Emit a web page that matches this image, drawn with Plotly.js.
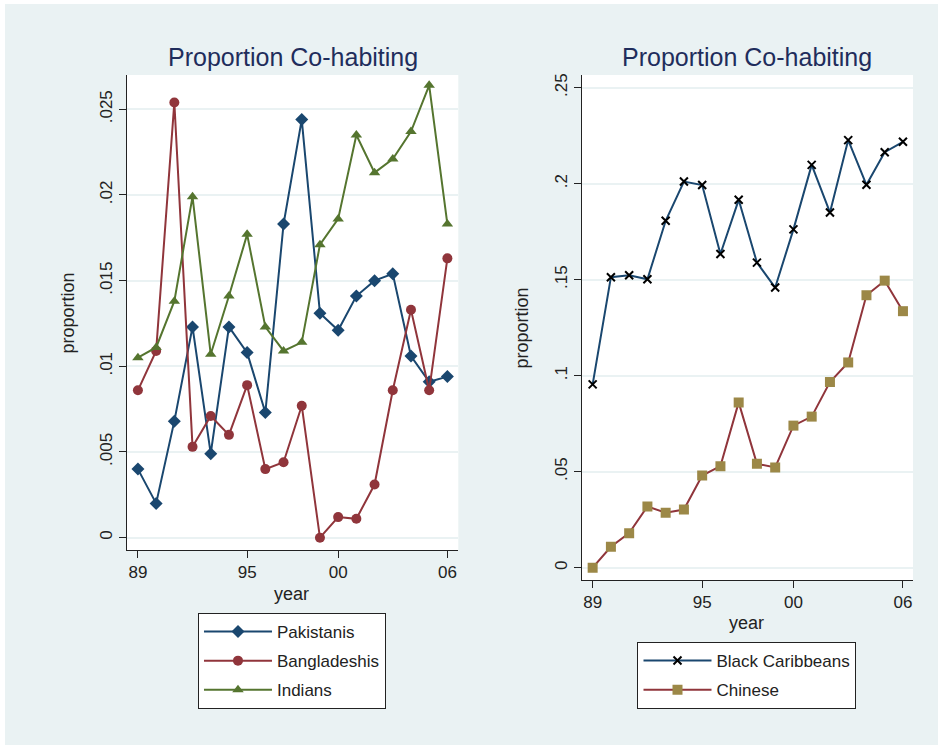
<!DOCTYPE html>
<html>
<head>
<meta charset="utf-8">
<script src="https://cdn.plot.ly/plotly-3.0.1.min.js"></script>
<style>
html,body{margin:0;padding:0;background:#ffffff;}
#chart{position:absolute;left:5px;top:4px;width:933px;height:741px;}
</style>
</head>
<body>
<div id="chart"></div>
<script>
// ---- data ----
var years = [1989,1990,1991,1992,1993,1994,1995,1996,1997,1998,1999,2000,2001,2002,2003,2004,2005,2006];

var pakistanis   = [0.0040,0.0020,0.0068,0.0123,0.0049,0.0123,0.0108,0.0073,0.0183,0.0244,0.0131,0.0121,0.0141,0.0150,0.0154,0.0106,0.0091,0.0094];
var bangladeshis = [0.0086,0.0109,0.0254,0.0053,0.0071,0.0060,0.0089,0.0040,0.0044,0.0077,0.0000,0.0012,0.0011,0.0031,0.0086,0.0133,0.0086,0.0163];
var indians      = [0.0105,0.0111,0.0138,0.0199,0.0107,0.0141,0.0177,0.0123,0.0109,0.0114,0.0171,0.0186,0.0235,0.0213,0.0221,0.0237,0.0264,0.0183];

var blackCaribbeans = [0.0955,0.1513,0.1523,0.1502,0.1807,0.2011,0.1993,0.1634,0.1916,0.1589,0.1459,0.1762,0.2098,0.1850,0.2227,0.1994,0.2164,0.2218];
var chinese         = [0.0000,0.0109,0.0180,0.0319,0.0286,0.0303,0.0480,0.0529,0.0861,0.0541,0.0522,0.0740,0.0787,0.0967,0.1069,0.1419,0.1495,0.1336];

var xTickVals = [1989,1995,2000,2006];
var xTickText = ['89','95','00','06'];
var yLeftVals = [0,0.005,0.01,0.015,0.02,0.025];
var yLeftText = ['0','.005','.01','.015','.02','.025'];
var yRightVals = [0,0.05,0.1,0.15,0.2,0.25];
var yRightText = ['0','.05','.1','.15','.2','.25'];

var titleText = 'Proportion Co-habiting';

// ---- styles ----
var FONT = 'Liberation Sans, Arial, Helvetica, sans-serif';
var NAVY = '#1a476f', MAROON = '#90353b', GREEN = '#55752f', KHAKI = '#9c8847';
var BG = '#eaf2f3';

var traces = [
  {x: years, y: pakistanis, name: 'Pakistanis', type: 'scatter', mode: 'lines+markers', legendgroup: 'g1',
   line: {color: NAVY, width: 2}, marker: {symbol: 'diamond', size: 10, color: NAVY},
   xaxis: 'x', yaxis: 'y', legend: 'legend'},
  {x: years, y: bangladeshis, name: 'Bangladeshis', type: 'scatter', mode: 'lines+markers', legendgroup: 'g2',
   line: {color: MAROON, width: 2}, marker: {symbol: 'circle', size: 10, color: MAROON},
   xaxis: 'x', yaxis: 'y', legend: 'legend'},
  {x: years, y: indians, name: 'Indians', type: 'scatter', mode: 'lines+markers', legendgroup: 'g3',
   line: {color: GREEN, width: 2}, marker: {symbol: 'triangle-up', size: 10, color: GREEN},
   xaxis: 'x', yaxis: 'y', legend: 'legend'},
  {x: years, y: blackCaribbeans, name: 'Black Caribbeans', type: 'scatter', mode: 'lines+markers', legendgroup: 'g4',
   line: {color: NAVY, width: 2}, marker: {symbol: 'x-thin-open', size: 8, color: '#000000', line: {width: 2, color: '#000000'}},
   xaxis: 'x2', yaxis: 'y2', legend: 'legend2'},
  {x: years, y: chinese, name: 'Chinese', type: 'scatter', mode: 'lines+markers', legendgroup: 'g5',
   line: {color: MAROON, width: 2}, marker: {symbol: 'square', size: 10, color: KHAKI},
   xaxis: 'x2', yaxis: 'y2', legend: 'legend2'}
];

var axisCommon = {
  showline: true, linecolor: '#222', linewidth: 1, mirror: false,
  ticks: 'outside', ticklen: 7, tickcolor: '#222', tickwidth: 1,
  tickfont: {family: FONT, size: 17, color: '#222'},
  zeroline: false, tickmode: 'array'
};

function ax(extra) { return Object.assign({}, axisCommon, extra); }

var titleFont = {family: FONT, size: 25, color: '#1f2d5c'};
var labFont = {family: FONT, size: 18, color: '#222'};

var legendCommon = {
  xref: 'paper', yref: 'paper', xanchor: 'center', yanchor: 'top',
  bgcolor: '#ffffff', bordercolor: '#222', borderwidth: 1,
  font: {family: FONT, size: 17, color: '#222'}, itemwidth: 68, tracegroupgap: 4,
  entrywidth: 190, entrywidthmode: 'pixels'
};

var layout = {
  width: 933, height: 741,
  paper_bgcolor: BG, plot_bgcolor: '#ffffff',
  margin: {l: 122, r: 25, t: 71, b: 165, autoexpand: false},
  showlegend: true,
  xaxis: ax({domain: [0, 0.4215], range: [1988.4, 2006.6], tickvals: xTickVals, ticktext: xTickText, showgrid: false, anchor: 'y'}),
  yaxis: ax({domain: [0.0594, 1], range: [-0.00072, 0.0270], tickvals: yLeftVals, ticktext: yLeftText, tickangle: -90,
             showgrid: true, gridcolor: BG, gridwidth: 2, anchor: 'x'}),
  xaxis2: ax({domain: [0.5785, 1], range: [1988.4, 2006.55], tickvals: xTickVals, ticktext: xTickText, showgrid: false, anchor: 'y2'}),
  yaxis2: ax({domain: [0, 1], range: [-0.0064, 0.2566], tickvals: yRightVals, ticktext: yRightText, tickangle: -90,
              showgrid: true, gridcolor: BG, gridwidth: 2, anchor: 'x2'}),
  legend: Object.assign({}, legendCommon, {x: 0.2099, y: -0.0653}),
  legend2: Object.assign({}, legendCommon, {x: 0.7888, y: -0.1228, entrywidth: 222}),
  annotations: [
    {text: titleText, xref: 'paper', yref: 'paper', x: 0.2106, y: 1.0356, xanchor: 'center', yanchor: 'middle', showarrow: false, font: titleFont},
    {text: titleText, xref: 'paper', yref: 'paper', x: 0.7894, y: 1.0356, xanchor: 'center', yanchor: 'middle', showarrow: false, font: titleFont},
    {text: 'proportion', xref: 'paper', yref: 'paper', x: -0.0751, y: 0.5297, xanchor: 'center', yanchor: 'middle', textangle: -90, showarrow: false, font: labFont},
    {text: 'proportion', xref: 'paper', yref: 'paper', x: 0.5025, y: 0.5, xanchor: 'center', yanchor: 'middle', textangle: -90, showarrow: false, font: labFont},
    {text: 'year', xref: 'paper', yref: 'paper', x: 0.2099, y: -0.0277, xanchor: 'center', yanchor: 'middle', showarrow: false, font: labFont},
    {text: 'year', xref: 'paper', yref: 'paper', x: 0.7888, y: -0.0851, xanchor: 'center', yanchor: 'middle', showarrow: false, font: labFont}
  ]
};

Plotly.newPlot('chart', traces, layout, {displayModeBar: false, staticPlot: true});
</script>
</body>
</html>
